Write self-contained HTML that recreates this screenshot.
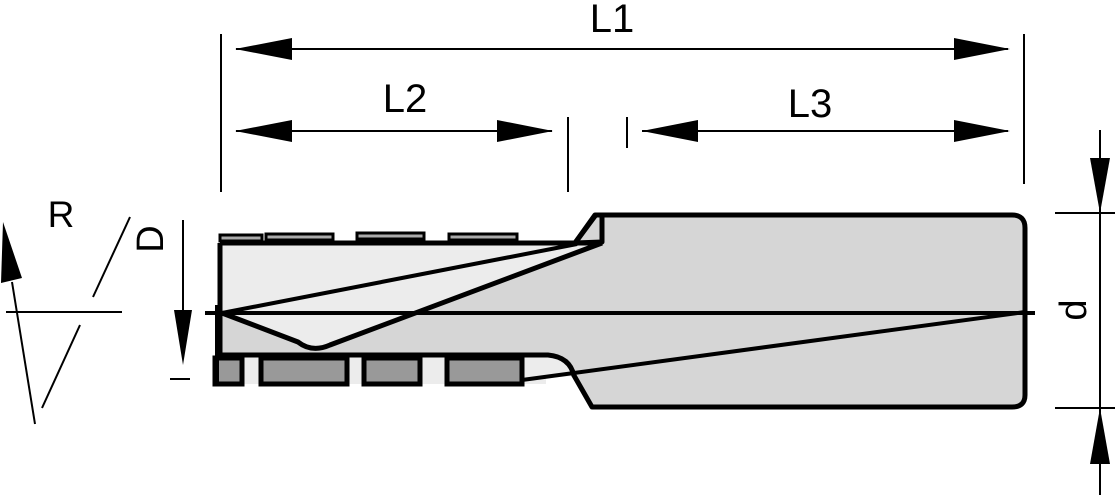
<!DOCTYPE html>
<html><head><meta charset="utf-8"><style>
html,body{margin:0;padding:0;background:#fff;}
svg{display:block;}
text{font-family:"Liberation Sans",Arial,sans-serif;fill:#000;}
</style></head><body>
<svg width="1115" height="500" viewBox="0 0 1115 500" xmlns="http://www.w3.org/2000/svg">
<path d="M595,215 L1012,215 Q1025,215 1025,228 L1025,395 Q1025,407 1012,407 L592,407 L572,372 L548,356 L575,243 Z" fill="#d6d6d6" stroke="#000" stroke-width="5" stroke-linejoin="round"/>
<rect x="220" y="243" width="360" height="112" fill="#d6d6d6" stroke="none"/>
<path d="M222,243 L602,243 L330,345 Q312,353 298,342 L222,313 Z" fill="#ececec"/>
<rect x="216" y="357" width="330" height="27" fill="#ececec"/>
<path d="M520,358 L548,356 Q572,360 574,376 L522,380 Z" fill="#ececec"/>
<path d="M220,243 L220,355 L548,355 Q570,357 574,376" fill="none" stroke="#000" stroke-width="5"/>
<line x1="220" y1="243" x2="600" y2="243" stroke="#000" stroke-width="5"/>
<path d="M595,216 L575,243 L602,242 L602,217" fill="none" stroke="#000" stroke-width="5" stroke-linejoin="round"/>
<g fill="#aaa" stroke="#000" stroke-width="3">
<rect x="220" y="235" width="42" height="6"/>
<rect x="266" y="234" width="67" height="6"/>
<rect x="357" y="233" width="67" height="6"/>
<rect x="449" y="234" width="68" height="6"/>
</g>
<g fill="#999" stroke="#000" stroke-width="5">
<rect x="215" y="358" width="27" height="26"/>
<rect x="261" y="358" width="86" height="26"/>
<rect x="364" y="358" width="56" height="26"/>
<rect x="447" y="358" width="75" height="26"/>
</g>
<line x1="222" y1="313" x2="577" y2="244" stroke="#000" stroke-width="4"/>
<path d="M602,243 L330,345 Q312,353 298,342 L222,313" fill="none" stroke="#000" stroke-width="5"/>
<line x1="522" y1="380" x2="1025" y2="312" stroke="#000" stroke-width="4"/>
<line x1="572" y1="372" x2="592" y2="407" stroke="#000" stroke-width="4"/>
<line x1="205" y1="313" x2="1035" y2="313" stroke="#000" stroke-width="4"/>
<line x1="217" y1="305" x2="217" y2="384" stroke="#000" stroke-width="4"/>

<g stroke="#000" stroke-width="2">
<line x1="221" y1="34" x2="221" y2="192"/>
<line x1="1024" y1="34" x2="1024" y2="184"/>
<line x1="568" y1="117" x2="568" y2="192"/>
<line x1="627" y1="117" x2="627" y2="148"/>
<line x1="236" y1="49" x2="1008" y2="49"/>
<line x1="236" y1="131" x2="552" y2="131"/>
<line x1="642" y1="131" x2="1008" y2="131"/>
<line x1="1100" y1="130" x2="1100" y2="495"/>
<line x1="1055" y1="213" x2="1115" y2="213"/>
<line x1="1055" y1="408" x2="1115" y2="408"/>
<line x1="183" y1="220" x2="183" y2="330"/>
<line x1="170" y1="379" x2="190" y2="379"/>
<line x1="6" y1="312" x2="122" y2="312"/>
<line x1="12" y1="282" x2="35" y2="424"/>
<line x1="130" y1="217" x2="93" y2="297"/>
<line x1="80" y1="325" x2="42" y2="408"/>
</g>
<g fill="#000">
<polygon points="235,49 292,38 292,60"/>
<polygon points="1010,49 954,38 954,60"/>
<polygon points="235,131 292,120 292,142"/>
<polygon points="553,131 497,120 497,142"/>
<polygon points="642,131 698,120 698,142"/>
<polygon points="1010,131 954,120 954,142"/>
<polygon points="1100,213 1090,158 1110,158"/>
<polygon points="1100,408 1090,464 1110,464"/>
<polygon points="183,365 174,310 192,310"/>
<polygon points="3,222 1,283 22,278"/>
</g>
<text x="612" y="32" font-size="40" text-anchor="middle">L1</text>
<text x="405" y="112" font-size="40" text-anchor="middle">L2</text>
<text x="810" y="117" font-size="40" text-anchor="middle">L3</text>
<text x="61" y="227" font-size="37" text-anchor="middle">R</text>
<text transform="translate(163,239) rotate(-90)" font-size="38" text-anchor="middle">D</text>
<text transform="translate(1086,310) rotate(-90)" font-size="38" text-anchor="middle">d</text>
</svg>
</body></html>
